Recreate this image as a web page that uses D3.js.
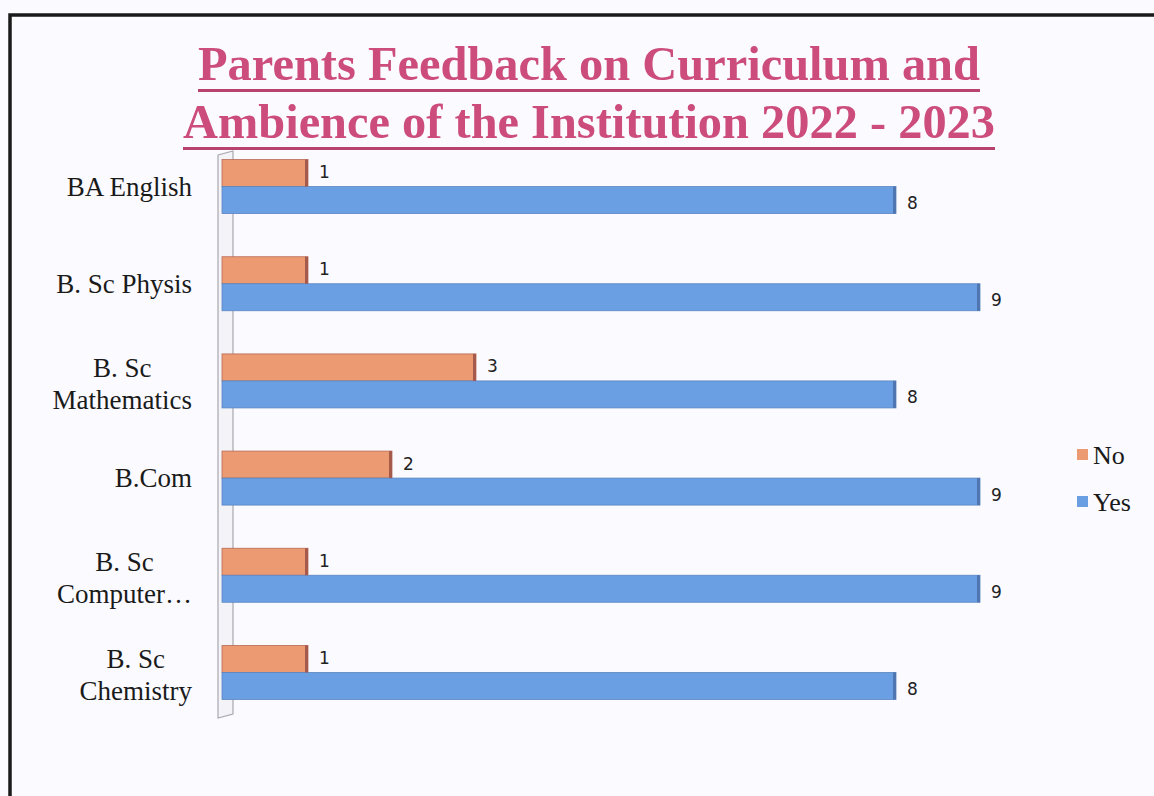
<!DOCTYPE html>
<html>
<head>
<meta charset="utf-8">
<script src="https://cdn.jsdelivr.net/npm/d3@7"></script>
<style>
  html, body { margin: 0; padding: 0; background: #fbfaff; }
  svg { display: block; }
</style>
</head>
<body>
<div class="visHolder"></div>
<script>
const w = 1154, h = 796;

// chart data
const categories = [
  ['BA English'],
  ['B. Sc Physis'],
  ['B. Sc', 'Mathematics'],
  ['B.Com'],
  ['B. Sc', 'Computer…'],
  ['B. Sc', 'Chemistry']
];
const noValues = [1, 1, 3, 2, 1, 1];
const yesValues = [8, 9, 8, 9, 9, 8];
const seriesNames = ['No', 'Yes'];
const titleLines = ['Parents Feedback on Curriculum and', 'Ambience of the Institution 2022 - 2023'];

const colors = { No: '#ec9a72', Yes: '#6b9fe3' };

const svg = d3.select('.visHolder')
  .append('svg')
  .attr('width', w)
  .attr('height', h);

// outer frame
svg.append('path')
  .attr('d', `M${w + 5},15 L10,15 L10,${h + 5}`)
  .attr('fill', 'none')
  .attr('stroke', '#1a1a1a')
  .attr('stroke-width', 3.5);

// title with underline
const title = svg.append('g')
  .attr('font-family', '"Liberation Serif", "Times New Roman", serif')
  .attr('font-weight', 'bold')
  .attr('fill', '#cc4d7c');

title.selectAll('text')
  .data(titleLines)
  .enter()
  .append('text')
  .attr('x', 589)
  .attr('y', (d, i) => 80 + i * 58)
  .attr('text-anchor', 'middle')
  .attr('font-size', 49)
  .attr('textLength', (d, i) => i === 0 ? 782 : 812)
  .attr('lengthAdjust', 'spacingAndGlyphs')
  .text(d => d);

title.selectAll('rect')
  .data(titleLines)
  .enter()
  .append('rect')
  .attr('x', (d, i) => i === 0 ? 198 : 183)
  .attr('y', (d, i) => 89 + i * 58)
  .attr('width', (d, i) => i === 0 ? 782 : 812)
  .attr('height', 3)
  .attr('fill', '#b8436e');

// scales
const xScale = d3.scaleLinear()
  .domain([0, 9])
  .range([224, 980]);

const yScale = d3.scaleBand()
  .domain(d3.range(categories.length))
  .range([138, 721]);

const sub = d3.scaleBand()
  .domain(seriesNames)
  .range([0, 54]);

// 3d wall of the category axis
const wallTop = yScale(0) + 17, wallBot = 718;
svg.append('path')
  .attr('d', `M218,${wallTop} L233,${wallTop - 4} L233,${wallBot - 4} L218,${wallBot} Z`)
  .attr('fill', '#f4f3f8')
  .attr('stroke', '#a8a8b0')
  .attr('stroke-width', 1.2);

const groups = svg.selectAll('.cat')
  .data(categories)
  .enter()
  .append('g')
  .attr('class', 'cat')
  .attr('transform', (d, i) => `translate(0, ${yScale(i) + yScale.bandwidth() / 2 - 27})`);

const rows = categories.map((c, i) => [
  { key: 'No', value: noValues[i] },
  { key: 'Yes', value: yesValues[i] }
]);

groups.selectAll('rect')
  .data((d, i) => rows[i])
  .enter()
  .append('rect')
  .attr('x', xScale(0) - 2)
  .attr('y', d => sub(d.key))
  .attr('width', d => xScale(d.value) - xScale(0) + 2)
  .attr('height', sub.bandwidth())
  .attr('fill', d => colors[d.key])
  .attr('stroke', d => d.key === 'No' ? '#b86a55' : '#5a86c0')
  .attr('stroke-width', 0.8);

// darker end cap like the 3d side
groups.selectAll('.cap')
  .data((d, i) => rows[i])
  .enter()
  .append('rect')
  .attr('class', 'cap')
  .attr('x', d => xScale(d.value) - 3)
  .attr('y', d => sub(d.key))
  .attr('width', 3)
  .attr('height', sub.bandwidth())
  .attr('fill', d => d.key === 'No' ? '#a65a4c' : '#4f76b0');

// value labels
groups.selectAll('.val')
  .data((d, i) => rows[i])
  .enter()
  .append('text')
  .attr('class', 'val')
  .attr('x', d => xScale(d.value) + 11)
  .attr('y', d => sub(d.key) + sub.bandwidth() / 2 + (d.key === 'No' ? -1 : 3))
  .attr('dy', '0.35em')
  .attr('font-family', '"DejaVu Sans", sans-serif')
  .attr('font-size', 17)
  .attr('fill', '#222')
  .text(d => d.value);

// category labels (wrapped lines centred on each other, block right aligned)
groups.append('text')
  .attr('font-family', '"Liberation Serif", "Times New Roman", serif')
  .attr('font-size', 27)
  .attr('fill', '#1a1a1a')
  .attr('text-anchor', 'middle')
  .each(function(d) {
    const t = d3.select(this);
    const off = d.length === 1 ? [36] : [23, 55];
    const spans = d.map((line, j) => t.append('tspan')
      .attr('y', off[j])
      .text(line));
    const maxW = d3.max(spans, s => s.node().getComputedTextLength());
    spans.forEach(s => s.attr('x', 192 - maxW / 2));
  });

// legend
const legend = svg.append('g')
  .attr('transform', 'translate(1077, 0)');

const legendItems = legend.selectAll('g')
  .data(seriesNames)
  .enter()
  .append('g')
  .attr('transform', (d, i) => `translate(0, ${455 + i * 47})`);

legendItems.append('rect')
  .attr('x', 0)
  .attr('y', -6)
  .attr('width', 11)
  .attr('height', 11)
  .attr('fill', d => colors[d]);

legendItems.append('text')
  .attr('x', 16)
  .attr('y', 0)
  .attr('dy', '0.35em')
  .attr('font-family', '"Liberation Serif", "Times New Roman", serif')
  .attr('font-size', 26)
  .attr('fill', '#1a1a1a')
  .text(d => d);
</script>
</body>
</html>
